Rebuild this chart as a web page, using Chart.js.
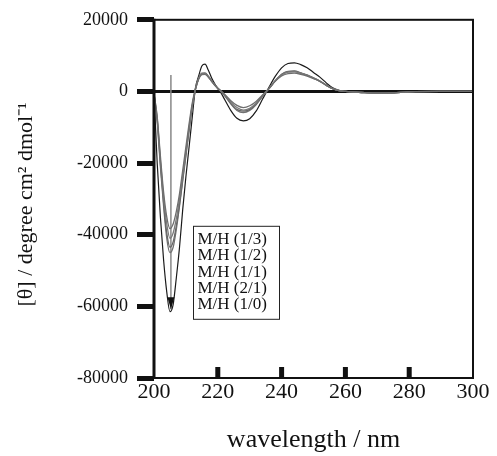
<!DOCTYPE html>
<html><head><meta charset="utf-8">
<script src="https://cdn.jsdelivr.net/npm/chart.js@4"></script>
<style>html,body{margin:0;padding:0;background:#fff;}#wrap{width:497px;height:456px;}</style>
</head><body><div id="wrap"><canvas id="c" width="497" height="456"></canvas></div>
<script>
const wavelengths = [200,201,202,203,204,205,206,207,208,209,210,211,212,213,214,215,216,217,218,219,220,221,222,224,226,228,230,232,234,236,238,240,242,244,246,248,250,252,254,256,258,260,265,270,275,280,290,300];
const seriesLabels = ['M/H (1/3)','M/H (1/2)','M/H (1/1)','M/H (2/1)','M/H (1/0)'];
const mh13 = [-500,-7000,-18000,-28000,-35000,-38300,-37000,-33500,-28500,-22000,-15500,-9000,-3200,800,3500,4700,4800,4000,2900,1800,900,150,-700,-2500,-3900,-4500,-4000,-2800,-1000,800,2800,4300,5000,5100,4800,4300,3600,2800,1700,750,200,0,-300,-500,-400,-100,0,0];
const mh12 = [-600,-7500,-19000,-29500,-37000,-41000,-39500,-35500,-30000,-23500,-16800,-10000,-3800,700,3600,4900,5000,4200,3000,1900,900,100,-800,-2900,-4500,-5200,-4700,-3300,-1200,800,3000,4600,5400,5500,5100,4500,3700,2900,1800,800,250,0,-300,-500,-400,-100,0,0];
const mh11 = [-700,-8000,-20000,-31000,-39500,-43500,-42000,-37500,-31500,-24500,-17500,-10500,-4000,600,3700,5100,5200,4300,3100,1900,900,50,-900,-3200,-5000,-5500,-5000,-3500,-1300,800,3000,4800,5600,5700,5200,4600,3800,2900,1800,800,250,0,-300,-500,-400,-100,0,0];
const mh21 = [-800,-8500,-21000,-32000,-41000,-45000,-43500,-38500,-32000,-25000,-18000,-11000,-4300,500,3500,4900,5000,4100,2900,1800,800,0,-1000,-3400,-5300,-5900,-5300,-3700,-1400,700,2900,4700,5500,5600,5100,4500,3700,2800,1700,750,200,0,-300,-500,-400,-100,0,0];
const mh10 = [-500,-20000,-35000,-47000,-56000,-61500,-59500,-52000,-43500,-33000,-23800,-15500,-7100,1000,4300,7100,7600,6000,3900,2200,800,-400,-2000,-5200,-7500,-8200,-7600,-5500,-2200,1100,4200,6600,7800,8000,7500,6600,5300,4000,2400,1000,300,0,-200,-500,-400,-100,0,0];
const yTickValues = [-80000,-60000,-40000,-20000,0,20000];
const xTickValues = [200,220,240,260,280,300];
const arrowWavelength = [205.3,205.3];
const arrowValues = [4600,-60800];

const allSeries = [mh13, mh12, mh11, mh21, mh10];
const seriesColors = ['#6e6e6e','#7a7a7a','#666666','#727272','#1a1a1a'];
const SERIF = '"Liberation Serif","Times New Roman",serif';

const datasets = allSeries.map((s,i)=>({
  label: seriesLabels[i],
  data: wavelengths.map((w,j)=>({x:w,y:s[j]})),
  borderColor: seriesColors[i],
  borderWidth: i===4 ? 1.2 : 1.3,
  pointRadius: 0,
  fill: false,
  cubicInterpolationMode: 'monotone'
}));
datasets.push({
  label: 'arrow',
  data: arrowWavelength.map((w,j)=>({x:w,y:arrowValues[j]})),
  borderColor: '#888',
  borderWidth: 1.5,
  pointRadius: 0,
  fill: false
});

const decor = {
  id: 'decor',
  afterDraw(chart){
    const {ctx, chartArea:a, scales:{x}} = chart;
    ctx.save();
    ctx.strokeStyle = '#111';
    ctx.lineWidth = 2;
    ctx.strokeRect(a.left, a.top, a.right-a.left, a.bottom-a.top);
    ctx.lineWidth = 3;
    ctx.beginPath(); ctx.moveTo(a.left, a.top-1); ctx.lineTo(a.left, a.bottom+1); ctx.stroke();
    ctx.fillStyle = '#111';
    xTickValues.slice(1,-1).forEach(v=>{
      const px = x.getPixelForValue(v);
      ctx.fillRect(px-2.5, a.bottom-11, 5, 11);
    });
    const meta = chart.getDatasetMeta(5);
    const tip = meta.data[1];
    ctx.beginPath();
    ctx.moveTo(tip.x, tip.y);
    ctx.lineTo(tip.x-3.5, tip.y-12);
    ctx.lineTo(tip.x+3.5, tip.y-12);
    ctx.closePath(); ctx.fill();
    // legend box
    const lx = a.left+39.5, ly = a.top+206.5, lw = 86, lh = 93;
    ctx.fillStyle = '#fff';
    ctx.fillRect(lx, ly, lw, lh);
    ctx.strokeStyle = '#222'; ctx.lineWidth = 1;
    ctx.strokeRect(lx, ly, lw, lh);
    ctx.fillStyle = '#111';
    ctx.font = '17px ' + SERIF;
    ctx.textBaseline = 'middle';
    ctx.textAlign = 'left';
    seriesLabels.forEach((t,i)=>{
      ctx.fillText(t, lx+4, ly+13.5+i*16.2);
    });
    ctx.restore();
  }
};

new Chart(document.getElementById('c'), {
  type: 'line',
  data: { datasets },
  options: {
    responsive: false,
    animation: false,
    events: [],
    layout: { padding: { top: 18, right: 24, left: 0, bottom: 0 } },
    plugins: { legend: { display: false }, tooltip: { enabled: false } },
    scales: {
      x: {
        type: 'linear', min: 200, max: 300,
        afterBuildTicks: s => { s.ticks = xTickValues.map(v=>({value:v})); },
        afterFit: s => { s.height = 78; },
        grid: { display: false, drawTicks: false },
        border: { display: false },
        ticks: { padding: 1, color: '#111', font: { family: SERIF, size: 22 }, maxRotation: 0, autoSkip: false, callback: v => String(v) },
        title: { display: true, text: 'wavelength / nm', color: '#111', font: { family: SERIF, size: 26 }, padding: { top: 0, bottom: 0 } }
      },
      y: {
        type: 'linear', min: -80000, max: 20000,
        afterBuildTicks: s => { s.ticks = yTickValues.map(v=>({value:v})); },
        afterFit: s => { s.width = 154; },
        grid: {
          drawOnChartArea: true,
          color: c => (c.tick && c.tick.value === 0) ? '#111' : 'rgba(0,0,0,0)',
          lineWidth: c => (c.tick && c.tick.value === 0) ? 3 : 1,
          tickColor: '#111', tickWidth: 5, tickLength: 17
        },
        border: { display: false },
        ticks: { padding: 9, color: '#111', font: { family: SERIF, size: 18 }, callback: v => String(v) },
        title: { display: true, text: '[θ] / degree cm² dmol⁻¹\u2002', color: '#111', font: { family: SERIF, size: 22 }, padding: { top: 13, bottom: 0 } }
      }
    }
  },
  plugins: [decor]
});
</script>
</body></html>
